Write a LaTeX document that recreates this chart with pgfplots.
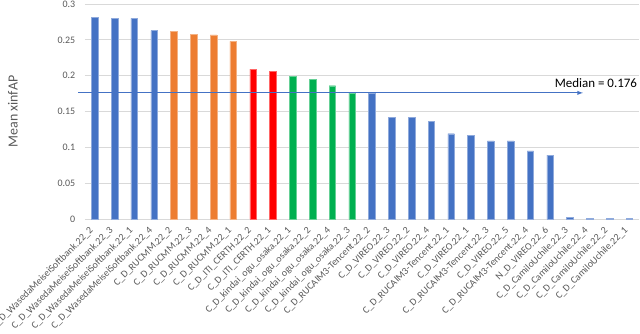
\documentclass[border=0pt]{standalone}
\usepackage{pgfplots}
\pgfplotsset{compat=1.18}
\usepackage{fontspec}
\setmainfont{Carlito}
\definecolor{xlblue}{HTML}{4472C4}
\definecolor{xlorange}{HTML}{ED7D31}
\definecolor{xlred}{HTML}{FF0000}
\definecolor{xlgreen}{HTML}{00B050}
\definecolor{xlgray}{HTML}{595959}
\definecolor{xlgrid}{HTML}{D9D9D9}
\begin{document}
\begin{tikzpicture}
\clip (-84.8bp,-115bp) rectangle (555.2bp,219bp);
\begin{axis}[
  at={(0,0)}, anchor=south west,
  scale only axis, width=554.4bp, height=215bp,
  xmin=-0.5, xmax=27.5, ymin=0, ymax=0.3,
  ybar, bar shift=0pt, bar width=6.6bp,
  axis line style={draw=none},
  ymajorgrids, grid style={xlgrid, line width=0.8pt},
  major tick length=0pt,
  ytick={0,0.05,0.1,0.15,0.2,0.25,0.3},
  yticklabels={0,0.05,0.1,0.15,0.2,0.25,0.3},
  xtick={0,...,27},
  xticklabels={C\_D\_WasedaMeiseiSoftbank.22\_2,C\_D\_WasedaMeiseiSoftbank.22\_3,C\_D\_WasedaMeiseiSoftbank.22\_1,C\_D\_WasedaMeiseiSoftbank.22\_4,
    C\_D\_RUCMM.22\_2,C\_D\_RUCMM.22\_3,C\_D\_RUCMM.22\_4,C\_D\_RUCMM.22\_1,
    C\_D\_ITI\_CERTH.22\_2,C\_D\_ITI\_CERTH.22\_1,
    C\_D\_kindai\_ogu\_osaka.22\_1,C\_D\_kindai\_ogu\_osaka.22\_2,C\_D\_kindai\_ogu\_osaka.22\_4,C\_D\_kindai\_ogu\_osaka.22\_3,
    C\_D\_RUCAIM3-Tencent.22\_2,C\_D\_VIREO.22\_3,C\_D\_VIREO.22\_2,C\_D\_VIREO.22\_4,C\_D\_RUCAIM3-Tencent.22\_1,
    C\_D\_VIREO.22\_1,C\_D\_RUCAIM3-Tencent.22\_3,C\_D\_VIREO.22\_5,C\_D\_RUCAIM3-Tencent.22\_4,N\_D\_VIREO.22\_6,
    C\_D\_CamiloUchile.22\_3,C\_D\_CamiloUchile.22\_4,C\_D\_CamiloUchile.22\_2,C\_D\_CamiloUchile.22\_1},
  x tick label style={xshift=-3bp, yshift=-10bp, rotate=45, anchor=east, font=\fontsize{10}{11}\selectfont, text=xlgray, inner sep=0pt},
  y tick label style={font=\fontsize{10}{11}\selectfont, text=xlgray},
  yticklabel style={xshift=-6bp},
  /pgf/number format/assume math mode=true,
  ylabel={Mean xinfAP},
  ylabel style={font=\fontsize{14}{15}\selectfont, text=xlgray, at={(axis description cs:-0.1295,0.5)}, anchor=center},
  clip=false,
]
\addplot[fill=xlblue, draw=xlblue!60] coordinates {(0,0.281) (1,0.280) (2,0.280) (3,0.263)};
\addplot[fill=xlorange, draw=xlorange!60] coordinates {(4,0.262) (5,0.258) (6,0.257) (7,0.248)};
\addplot[fill=xlred, draw=xlred!60] coordinates {(8,0.209) (9,0.206)};
\addplot[fill=xlgreen, draw=xlgreen!60] coordinates {(10,0.199) (11,0.195) (12,0.186) (13,0.176)};
\addplot[fill=xlblue, draw=xlblue!60] coordinates {(14,0.176) (15,0.142) (16,0.142) (17,0.136) (18,0.119)
  (19,0.117) (20,0.109) (21,0.109) (22,0.095) (23,0.089) (24,0.002) (25,0.001) (26,0.001) (27,0.001)};
\addplot[xlblue, line width=0.9pt, sharp plot, -latex] coordinates {(-0.84,0.176) (24.66,0.176)};
\node[anchor=base east, font=\fontsize{13}{14}\selectfont, inner sep=0pt] at (axis cs:27.4,0.184) {Median = 0.176};
\end{axis}
\end{tikzpicture}
\end{document}
